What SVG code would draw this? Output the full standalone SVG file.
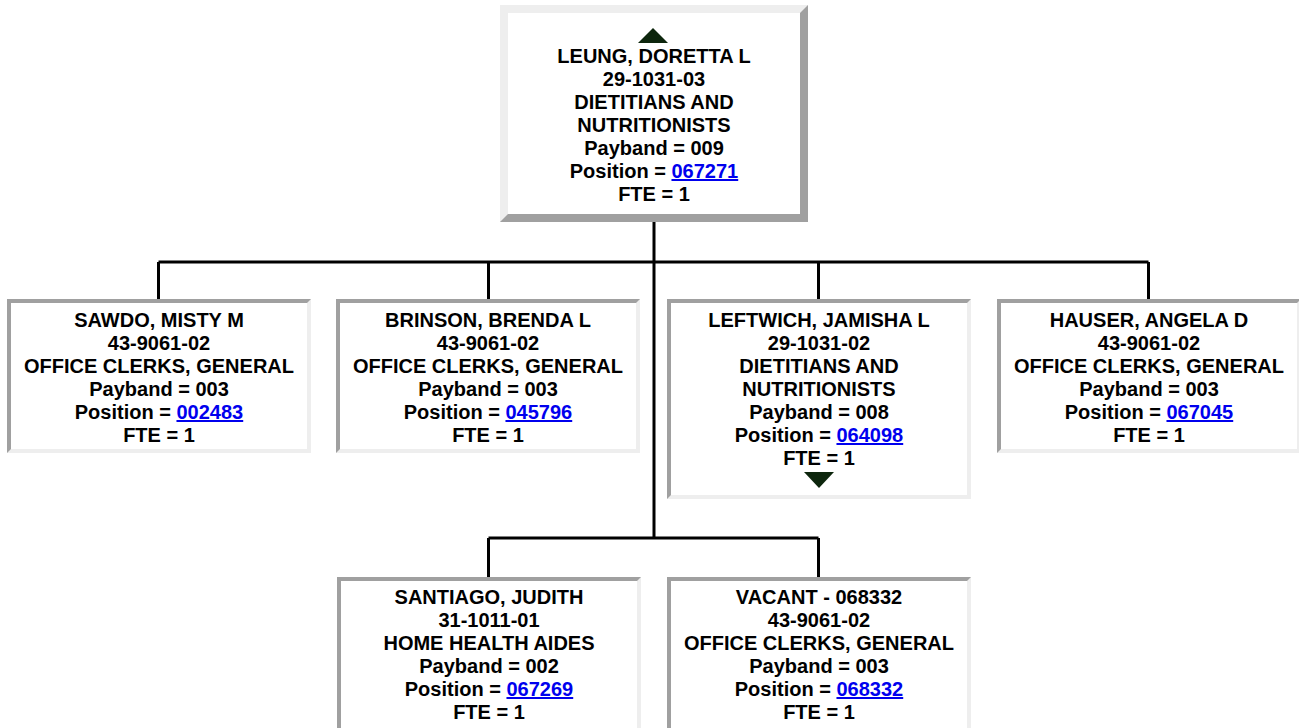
<svg xmlns="http://www.w3.org/2000/svg" width="1299" height="728" viewBox="0 0 1299 728">
<style>
text{font-family:"Liberation Sans",Arial,sans-serif;font-weight:bold;font-size:20px;fill:#000;text-anchor:middle}
.lnk{fill:#0000EE;text-decoration:underline}
.dk{fill:#a0a0a0}
.lt{fill:#eeeeee}
.in{fill:#fff}
.tri{fill:#0d260d}
.conn{stroke:#000;stroke-width:3;fill:none}
</style>
<rect width="1299" height="728" fill="#fff"/>
<g id="connectors">
<path class="conn" d="M654 222V538M158.5 262H1148.5M158.5 262V299M488.5 262V299M818.5 262V299M1148.5 262V299M488.5 538H818.5M488.5 538V577M818.5 538V577"/>
</g>
<g id="node-leung">
<rect x="500" y="5" width="308" height="217" class="dk"/>
<polygon points="500,5 808,5 800,13 508,13 508,214 500,222" class="lt"/>
<rect x="508" y="13" width="292" height="201" class="in"/>
<polygon points="638,43 668,43 653,28" class="tri"/>
<text x="654" y="63">LEUNG, DORETTA L</text>
<text x="654" y="86">29-1031-03</text>
<text x="654" y="109">DIETITIANS AND</text>
<text x="654" y="132">NUTRITIONISTS</text>
<text x="654" y="155">Payband = 009</text>
<text x="654" y="178">Position = <tspan class="lnk">067271</tspan></text>
<text x="654" y="201">FTE = 1</text>
</g>
<g id="node-sawdo">
<rect x="7" y="299" width="304" height="154" class="lt"/>
<polygon points="7,299 311,299 307,303 11,303 11,449 7,453" class="dk"/>
<rect x="11" y="303" width="296" height="146" class="in"/>
<text x="159" y="327">SAWDO, MISTY M</text>
<text x="159" y="350">43-9061-02</text>
<text x="159" y="373">OFFICE CLERKS, GENERAL</text>
<text x="159" y="396">Payband = 003</text>
<text x="159" y="419">Position = <tspan class="lnk">002483</tspan></text>
<text x="159" y="442">FTE = 1</text>
</g>
<g id="node-brinson">
<rect x="336" y="299" width="304" height="154" class="lt"/>
<polygon points="336,299 640,299 636,303 340,303 340,449 336,453" class="dk"/>
<rect x="340" y="303" width="296" height="146" class="in"/>
<text x="488" y="327">BRINSON, BRENDA L</text>
<text x="488" y="350">43-9061-02</text>
<text x="488" y="373">OFFICE CLERKS, GENERAL</text>
<text x="488" y="396">Payband = 003</text>
<text x="488" y="419">Position = <tspan class="lnk">045796</tspan></text>
<text x="488" y="442">FTE = 1</text>
</g>
<g id="node-leftwich">
<rect x="667" y="299" width="304" height="200" class="lt"/>
<polygon points="667,299 971,299 967,303 671,303 671,495 667,499" class="dk"/>
<rect x="671" y="303" width="296" height="192" class="in"/>
<text x="819" y="327">LEFTWICH, JAMISHA L</text>
<text x="819" y="350">29-1031-02</text>
<text x="819" y="373">DIETITIANS AND</text>
<text x="819" y="396">NUTRITIONISTS</text>
<text x="819" y="419">Payband = 008</text>
<text x="819" y="442">Position = <tspan class="lnk">064098</tspan></text>
<text x="819" y="465">FTE = 1</text>
<polygon points="804,472 834,472 819,488" class="tri"/>
</g>
<g id="node-hauser">
<rect x="997" y="299" width="304" height="154" class="lt"/>
<polygon points="997,299 1301,299 1297,303 1001,303 1001,449 997,453" class="dk"/>
<rect x="1001" y="303" width="296" height="146" class="in"/>
<text x="1149" y="327">HAUSER, ANGELA D</text>
<text x="1149" y="350">43-9061-02</text>
<text x="1149" y="373">OFFICE CLERKS, GENERAL</text>
<text x="1149" y="396">Payband = 003</text>
<text x="1149" y="419">Position = <tspan class="lnk">067045</tspan></text>
<text x="1149" y="442">FTE = 1</text>
</g>
<g id="node-santiago">
<rect x="337" y="577" width="304" height="155" class="lt"/>
<polygon points="337,577 641,577 637,581 341,581 341,728 337,732" class="dk"/>
<rect x="341" y="581" width="296" height="147" class="in"/>
<text x="489" y="604">SANTIAGO, JUDITH</text>
<text x="489" y="627">31-1011-01</text>
<text x="489" y="650">HOME HEALTH AIDES</text>
<text x="489" y="673">Payband = 002</text>
<text x="489" y="696">Position = <tspan class="lnk">067269</tspan></text>
<text x="489" y="719">FTE = 1</text>
</g>
<g id="node-vacant">
<rect x="667" y="577" width="304" height="155" class="lt"/>
<polygon points="667,577 971,577 967,581 671,581 671,728 667,732" class="dk"/>
<rect x="671" y="581" width="296" height="147" class="in"/>
<text x="819" y="604">VACANT - 068332</text>
<text x="819" y="627">43-9061-02</text>
<text x="819" y="650">OFFICE CLERKS, GENERAL</text>
<text x="819" y="673">Payband = 003</text>
<text x="819" y="696">Position = <tspan class="lnk">068332</tspan></text>
<text x="819" y="719">FTE = 1</text>
</g>
</svg>
